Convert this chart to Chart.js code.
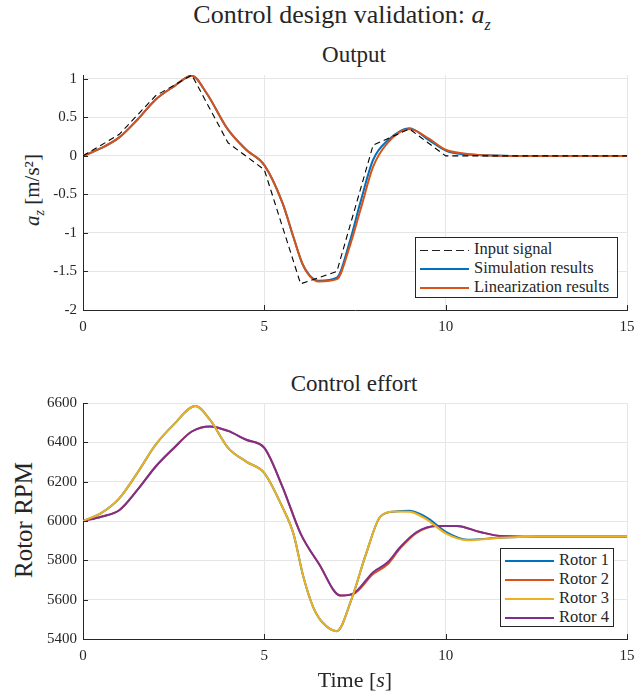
<!DOCTYPE html>
<html>
<head>
<meta charset="utf-8">
<script src="https://cdn.jsdelivr.net/npm/chart.js@4"></script>
<style>
  body { margin: 0; background: #fff; }
  #fig { position: relative; width: 634px; height: 695px; font-family: "Liberation Serif", serif; color: #262626; }
  .txt { position: absolute; white-space: nowrap; transform: translate(-50%, -50%); }
  .rot { transform: translate(-50%, -50%) rotate(-90deg); }
  canvas { position: absolute; left: 0; }
  .legend { position: absolute; background: #fff; border: 1px solid #262626; font-family: "Liberation Serif", serif; font-size: 16.5px; line-height: 19px; padding: 1px 4px; box-sizing: border-box; }
  .legend div { white-space: nowrap; }
  .sw { display: inline-block; width: 49px; height: 2px; vertical-align: middle; margin-right: 5px; }
</style>
</head>
<body>
<div id="fig">
  <div class="txt" style="left:342px;top:17px;font-size:26px;">Control design validation: <i>a<sub style="font-size:16px">z</sub></i></div>
  <div class="txt" style="left:354px;top:55px;font-size:23px;">Output</div>
  <div class="txt rot" style="left:34px;top:190px;font-size:21px;"><i>a<sub style="font-size:14px">z</sub></i> [m/s²]</div>
  <canvas id="outChart" width="634" height="270" style="top:70px"></canvas>
  <div class="legend" style="left:415px;top:237px;width:203px;height:61px;">
    <div><span class="sw" style="height:1.3px;background:repeating-linear-gradient(to right,#222 0 8px,transparent 8px 12px);"></span>Input signal</div>
    <div><span class="sw" style="background:#0072BD;"></span>Simulation results</div>
    <div><span class="sw" style="background:#D95319;"></span>Linearization results</div>
  </div>

  <div class="txt" style="left:354px;top:384px;font-size:23px;">Control effort</div>
  <div class="txt rot" style="left:24px;top:520px;font-size:25px;">Rotor RPM</div>
  <canvas id="rpmChart" width="634" height="275" style="top:395px"></canvas>
  <div class="legend" style="left:500px;top:548px;width:114px;height:79px;">
    <div><span class="sw" style="background:#0072BD;"></span>Rotor 1</div>
    <div><span class="sw" style="background:#D95319;"></span>Rotor 2</div>
    <div><span class="sw" style="background:#EDB120;"></span>Rotor 3</div>
    <div><span class="sw" style="background:#7E2F8E;"></span>Rotor 4</div>
  </div>
  <div class="txt" style="left:355px;top:680px;font-size:22px;">Time [<i>s</i>]</div>
</div>

<script>
// x ticks shared by both plots
const timeTicks = [0, 5, 10, 15];

// Output plot
const outTicks = [-2, -1.5, -1, -0.5, 0, 0.5, 1];
const inputT = [0, 1, 2, 3, 4, 5, 6, 7, 8, 9, 10, 15];
const inputSignal = [0, 0.28, 0.78, 1.05, 0.17, -0.18, -1.66, -1.5, 0.14, 0.35, 0, 0];
const outT = [0, 0.5, 1, 1.5, 2, 2.5, 3, 3.4, 4, 4.5, 5, 5.5, 5.8, 6.05, 6.25, 6.5, 7, 7.35, 7.65, 8, 8.4, 9, 9.55, 10, 10.5, 11, 12, 15];
const simulation = [0, 0.1, 0.24, 0.47, 0.73, 0.9, 1.04, 0.82, 0.34, 0.08, -0.12, -0.61, -1.05, -1.4, -1.55, -1.62, -1.58, -1.12, -0.6, -0.05, 0.2, 0.36, 0.2, 0.07, 0.02, 0.01, 0, 0];
const linearization = [0, 0.1, 0.24, 0.47, 0.73, 0.9, 1.04, 0.82, 0.34, 0.08, -0.12, -0.61, -1.05, -1.4, -1.56, -1.63, -1.6, -1.18, -0.7, -0.14, 0.17, 0.35, 0.22, 0.08, 0.03, 0.01, 0, 0];

// Control effort plot
const rpmTicks = [5400, 5600, 5800, 6000, 6200, 6400, 6600];
const rotorAT = [0, 0.5, 1, 1.5, 2, 2.5, 3.1, 3.5, 4, 4.5, 5, 5.5, 5.8, 6.08, 6.35, 6.6, 7, 7.4, 7.8, 8.2, 8.6, 9, 9.5, 10, 10.6, 11.5, 12.5, 15];
const rotor1 = [6000, 6040, 6115, 6245, 6387, 6490, 6585, 6515, 6372, 6302, 6244, 6070, 5937, 5714, 5561, 5485, 5440, 5600, 5830, 6022, 6048, 6052, 6015, 5945, 5905, 5915, 5920, 5920];
const rotor3 = [6000, 6040, 6115, 6245, 6387, 6490, 6585, 6515, 6372, 6302, 6244, 6070, 5937, 5714, 5561, 5485, 5440, 5600, 5830, 6022, 6048, 6047, 6005, 5937, 5902, 5915, 5920, 5920];
const rotorBT = [0, 0.5, 1, 1.5, 2, 2.5, 3, 3.5, 4, 4.5, 5, 5.5, 6, 6.5, 7.1, 7.45, 8, 8.4, 8.75, 9.2, 9.75, 10.3, 10.95, 11.5, 12.5, 15];
const rotor2 = [6000, 6022, 6055, 6158, 6276, 6370, 6455, 6481, 6458, 6413, 6372, 6174, 5936, 5784, 5621, 5628, 5730, 5780, 5862, 5940, 5975, 5975, 5944, 5924, 5920, 5920];
const rotor4 = [6000, 6022, 6055, 6158, 6276, 6370, 6455, 6481, 6458, 6413, 6372, 6174, 5936, 5784, 5621, 5631, 5740, 5790, 5868, 5944, 5975, 5975, 5944, 5924, 5920, 5920];

const pts = (xs, ys) => xs.map((x, i) => ({ x: x, y: ys[i] }));
const tickFont = { family: "'Liberation Serif', serif", size: 15 };
const axisColor = "#262626";
const gridColor = "#e6e6e6";

// small inward tick marks like the original figure
const innerTicks = {
  id: "innerTicks",
  afterDraw(chart) {
    const { ctx, chartArea, scales } = chart;
    ctx.save();
    ctx.strokeStyle = axisColor;
    ctx.lineWidth = 1;
    ctx.beginPath();
    scales.x.ticks.forEach((t) => {
      const px = Math.round(scales.x.getPixelForValue(t.value)) + 0.5;
      ctx.moveTo(px, chartArea.bottom);
      ctx.lineTo(px, chartArea.bottom - 5);
    });
    scales.y.ticks.forEach((t) => {
      const py = Math.round(scales.y.getPixelForValue(t.value)) + 0.5;
      ctx.moveTo(chartArea.left, py);
      ctx.lineTo(chartArea.left + 5, py);
    });
    ctx.stroke();
    ctx.restore();
  },
};

const makeScales = (yMin, yMax, yTicks, xHeight) => ({
  x: {
    type: "linear",
    min: 0,
    max: 15,
    afterBuildTicks: (s) => { s.ticks = timeTicks.map((v) => ({ value: v })); },
    afterFit: (s) => { s.height = xHeight; s.paddingLeft = 0; s.paddingRight = 0; },
    grid: { color: gridColor, drawTicks: false },
    border: { color: axisColor },
    ticks: { font: tickFont, color: axisColor, padding: 8, maxRotation: 0 },
  },
  y: {
    min: yMin,
    max: yMax,
    afterBuildTicks: (s) => { s.ticks = yTicks.map((v) => ({ value: v })); },
    afterFit: (s) => { s.width = 83; s.paddingTop = 0; s.paddingBottom = 0; },
    grid: { color: gridColor, drawTicks: false },
    border: { color: axisColor },
    ticks: { font: tickFont, color: axisColor, padding: 6, callback: (v) => String(v) },
  },
});

const baseOptions = (scales, padTop) => ({
  responsive: false,
  animation: false,
  layout: { padding: { top: padTop, right: 7, left: 0, bottom: 0 } },
  plugins: { legend: { display: false }, tooltip: { enabled: false } },
  elements: { point: { radius: 0 } },
  scales: scales,
});

const drawCharts = () => {
  new Chart(document.getElementById("outChart"), {
    type: "line",
    data: {
      datasets: [
        { label: "Input signal", data: pts(inputT, inputSignal), borderColor: "#000", borderWidth: 1.1, borderDash: [6, 4], tension: 0, order: 0 },
        { label: "Linearization results", data: pts(outT, linearization), borderColor: "#D95319", borderWidth: 2, cubicInterpolationMode: "monotone", order: 1 },
        { label: "Simulation results", data: pts(outT, simulation), borderColor: "#0072BD", borderWidth: 2, cubicInterpolationMode: "monotone", order: 2 },
      ],
    },
    options: baseOptions(makeScales(-2, 1.05, outTicks, 30), 5),
    plugins: [innerTicks],
  });

  new Chart(document.getElementById("rpmChart"), {
    type: "line",
    data: {
      datasets: [
        { label: "Rotor 4", data: pts(rotorBT, rotor4), borderColor: "#7E2F8E", borderWidth: 2, cubicInterpolationMode: "monotone", order: 1 },
        { label: "Rotor 3", data: pts(rotorAT, rotor3), borderColor: "#EDB120", borderWidth: 2, cubicInterpolationMode: "monotone", order: 0 },
        { label: "Rotor 2", data: pts(rotorBT, rotor2), borderColor: "#D95319", borderWidth: 2, cubicInterpolationMode: "monotone", order: 2 },
        { label: "Rotor 1", data: pts(rotorAT, rotor1), borderColor: "#0072BD", borderWidth: 2, cubicInterpolationMode: "monotone", order: 3 },
      ],
    },
    options: baseOptions(makeScales(5400, 6600, rpmTicks, 31), 8),
    plugins: [innerTicks],
  });
};

// canvas text needs the font loaded first
document.fonts.load("15px 'Liberation Serif'").then(drawCharts, drawCharts);
</script>
</body>
</html>
